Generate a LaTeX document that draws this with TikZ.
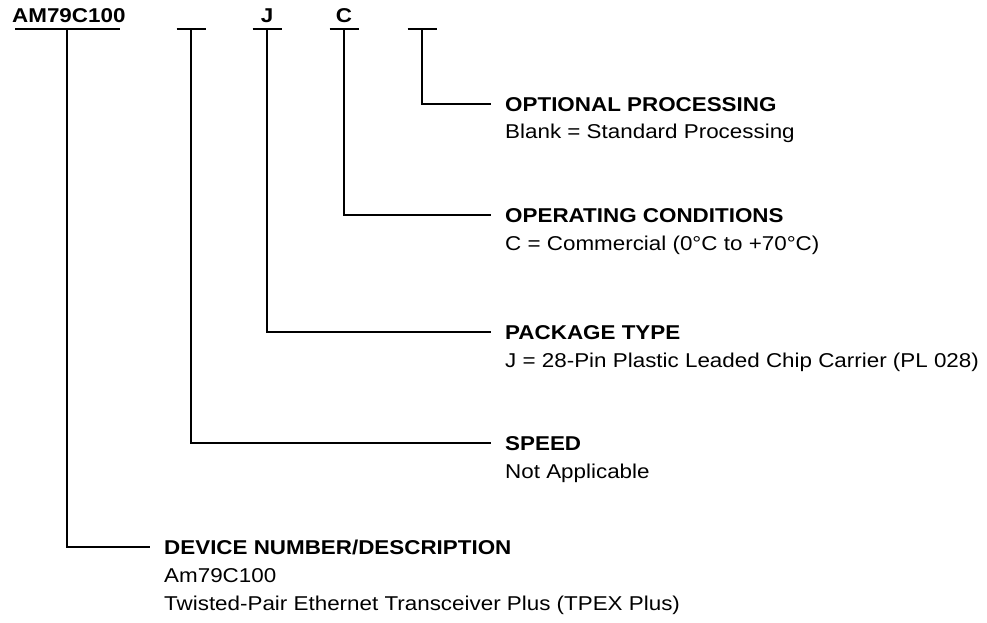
\documentclass[tikz,border=0pt]{standalone}
\usepackage{fontspec}
\setmainfont{Liberation Sans}[FakeStretch=1.12]
\usetikzlibrary{positioning}
\tikzset{
	code/.style={font=\fontsize{20}{28}\selectfont\bfseries, inner sep=0pt, text height=14.3pt, text depth=0pt},
	heading/.style={code, anchor=west},
	note/.style={font=\fontsize{20}{28}\selectfont, anchor=base west, inner sep=0pt},
	bar/.style={line width=1.6pt},
	lead/.style={line width=1.6pt, shorten >=14pt}
}

\begin{document}
\begin{tikzpicture}[x=1pt, y=-1pt]
		\useasboundingbox (0,0) rectangle (987,623);
		% ordering code
		\node[code, anchor=west] (pn) at (12,15) {AM79C100};
		\node[code] (pkgJ) at (267,15) {J};
		\node[code] (condC) at (344,15) {C};
		\draw[bar] (15,29) -- (120,29);
		\foreach \x in {191,267,344,422}
			\draw[bar] (\x-14.5,29) -- (\x+14.5,29);
		\coordinate (tapD) at (67,29);
		\coordinate (tapS) at (191,29);
		\coordinate (tapJ) at (267,29);
		\coordinate (tapC) at (344,29);
		\coordinate (tapO) at (422,29);
		% fields
		\node[heading] (optproc) at (505,104) {OPTIONAL PROCESSING};
		\node[note] (optprocd) at (505,139) {Blank = Standard Processing};
		\node[heading] (opcond) at (505,215) {OPERATING CONDITIONS};
		\node[note] (opcondd) at (505,250) {C = Commercial (0\textdegree C to +70\textdegree C)};
		\node[heading] (pkgtype) at (505,332) {PACKAGE TYPE};
		\node[note] (pkgtyped) at (505,367) {J = 28-Pin Plastic Leaded Chip Carrier (PL 028)};
		\node[heading] (speed) at (505,443) {SPEED};
		\node[note] (speedd) at (505,478) {Not Applicable};
		\node[heading] (devnum) at (164,547) {DEVICE NUMBER/DESCRIPTION};
		\node[note] (devnumd) at (164,582) {Am79C100};
		\node[note] (devnume) at (164,610) {Twisted-Pair Ethernet Transceiver Plus (TPEX Plus)};
		% leads
		\draw[lead] (tapO) |- (optproc.west);
		\draw[lead] (tapC) |- (opcond.west);
		\draw[lead] (tapJ) |- (pkgtype.west);
		\draw[lead] (tapS) |- (speed.west);
		\draw[lead] (tapD) |- (devnum.west);
	\end{tikzpicture}
\end{document}
